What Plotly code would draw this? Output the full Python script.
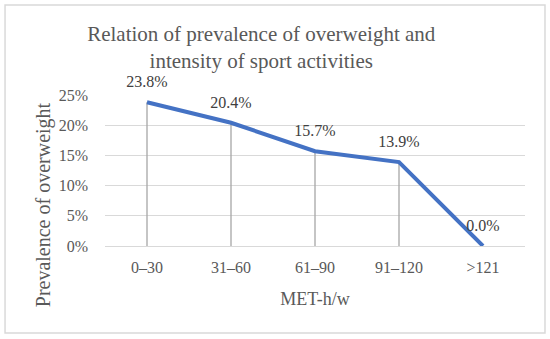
import plotly.graph_objects as go

categories = ["0–30", "31–60", "61–90", "91–120", ">121"]
prevalence = [0.238, 0.204, 0.157, 0.139, 0.0]
y_ticks = [0, 0.05, 0.10, 0.15, 0.20, 0.25]

FONT = "Liberation Serif"
GRAY = "#595959"

fig = go.Figure()
fig.add_trace(go.Scatter(
    x=categories, y=prevalence, mode="lines+markers+text",
    line=dict(color="#4472C4", width=4),
    marker=dict(size=16, color="rgba(0,0,0,0)"),
    text=[f"{v*100:.1f}%" for v in prevalence],
    textposition="top center",
    textfont=dict(family=FONT, size=16, color="#404040"),
    error_y=dict(type="data", symmetric=False, array=[0]*len(prevalence),
                 arrayminus=prevalence, width=0, thickness=1.3, color="#a6a6a6"),
    cliponaxis=False, hoverinfo="skip", showlegend=False,
))

fig.update_layout(
    width=550, height=339,
    margin=dict(l=105, r=25, t=95, b=93, autoexpand=False),
    paper_bgcolor="white", plot_bgcolor="white",
    font=dict(family=FONT, color=GRAY),
    title=dict(text="Relation of prevalence of overweight and<br>intensity of sport activities",
               x=0.475, xanchor="center", xref="container", y=0.879, yanchor="top",
               yref="container", automargin=False,
               font=dict(family=FONT, size=21, color=GRAY)),
    xaxis=dict(range=[-0.5, 4.5], automargin=False,
               showgrid=False, showline=False, zeroline=False, ticks="",
               tickfont=dict(family=FONT, size=16, color=GRAY),
               ticklabelstandoff=10,
               title=dict(text="MET-h/w", font=dict(family=FONT, size=18, color=GRAY), standoff=17)),
    yaxis=dict(range=[0, 0.25], tickvals=y_ticks, tickformat=".0%", automargin=False,
               showgrid=True, gridcolor="#d9d9d9", gridwidth=1,
               zeroline=True, zerolinecolor="#d9d9d9", zerolinewidth=1, showline=False,
               tickfont=dict(family=FONT, size=16, color=GRAY),
               ticklabelstandoff=16),
    annotations=[dict(text="Prevalence of overweight", xref="paper", yref="paper",
                      x=-0.1476, y=0.27, xanchor="center", yanchor="middle",
                      textangle=-90, showarrow=False,
                      font=dict(family=FONT, size=20, color=GRAY))],
    shapes=[dict(type="rect", xref="paper", yref="paper",
                 x0=-0.238, x1=1.0476, y0=-0.576, y1=1.596,
                 line=dict(color="#d9d9d9", width=1.5), layer="below")],
)

fig.write_html("out.html", config={"displayModeBar": False},
               post_script="document.body.style.margin='0';document.body.style.overflow='hidden';")
